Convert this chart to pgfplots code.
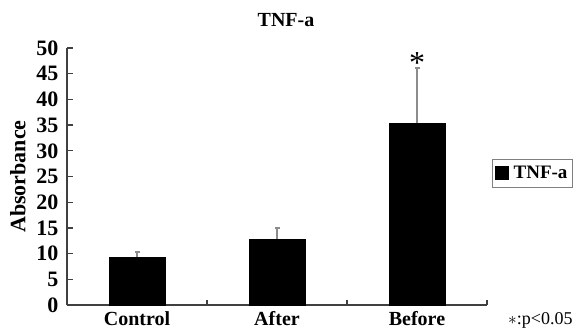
\documentclass[border=0pt]{standalone}
\usepackage{pgfplots}
\pgfplotsset{compat=1.18}
\usepackage{fontspec}
\setmainfont{Liberation Serif}
\begin{document}
\begin{tikzpicture}[x=1pt,y=1pt]
\useasboundingbox (-67,-25) rectangle (513,305);
\begin{axis}[
  at={(0,0)}, anchor=south west,
  scale only axis, width=420pt, height=257pt,
  xmin=-0.5, xmax=2.5, ymin=0, ymax=50,
  axis x line=bottom, axis y line=left,
  axis line style={black!75, line width=1.3pt, -},
  every tick/.style={black!75, line width=1.3pt},
  tick align=inside,
  ytick={0,5,...,50},
  major tick length=5.5pt,
  xtick={-0.5,0.5,1.5,2.5},
  x tick label as interval,
  xticklabels={Control,After,Before},
  /pgf/number format/assume math mode=true,
  yticklabel style={font=\fontsize{22}{22}\selectfont\bfseries, xshift=-5pt},
  xticklabel style={font=\fontsize{20}{20}\selectfont\bfseries, yshift=-3pt},
  ylabel={Absorbance},
  ylabel style={font=\fontsize{22}{22}\selectfont\bfseries, yshift=4pt},
  title={TNF-a},
  title style={font=\fontsize{20}{20}\selectfont\bfseries, xshift=9pt, yshift=12pt},
  legend style={at={(1.012,0.568)}, anchor=north west, draw=black!50,
    font=\fontsize{19}{19}\selectfont\bfseries, inner xsep=3pt, inner ysep=5pt},
  legend image code/.code={\fill[black] (0pt,-6pt) rectangle (13pt,7pt);},
  legend cell align=left,
  clip=false,
]
\addplot[ybar, bar width=56pt, fill=black, draw=black,
  error bars/.cd, y dir=plus, y explicit,
  error bar style={black!45, line width=1.2pt},
  error mark options={rotate=90, mark size=2.5pt, black!45, line width=1.2pt}]
  coordinates {(0,9.3) +- (0,1.0) (1,12.8) +- (0,2.2) (2,35.4) +- (0,10.7)};
\addlegendentry{\hspace{3pt}TNF-a}
\node[font=\fontsize{32}{32}\selectfont, inner sep=0pt] at (axis cs:2,47.0) {*};
\node[anchor=west, font=\fontsize{18}{18}\selectfont, inner sep=0pt] at (rel axis cs:1.05,-0.06) {$\ast$:p<0.05};
\end{axis}
\end{tikzpicture}
\end{document}
